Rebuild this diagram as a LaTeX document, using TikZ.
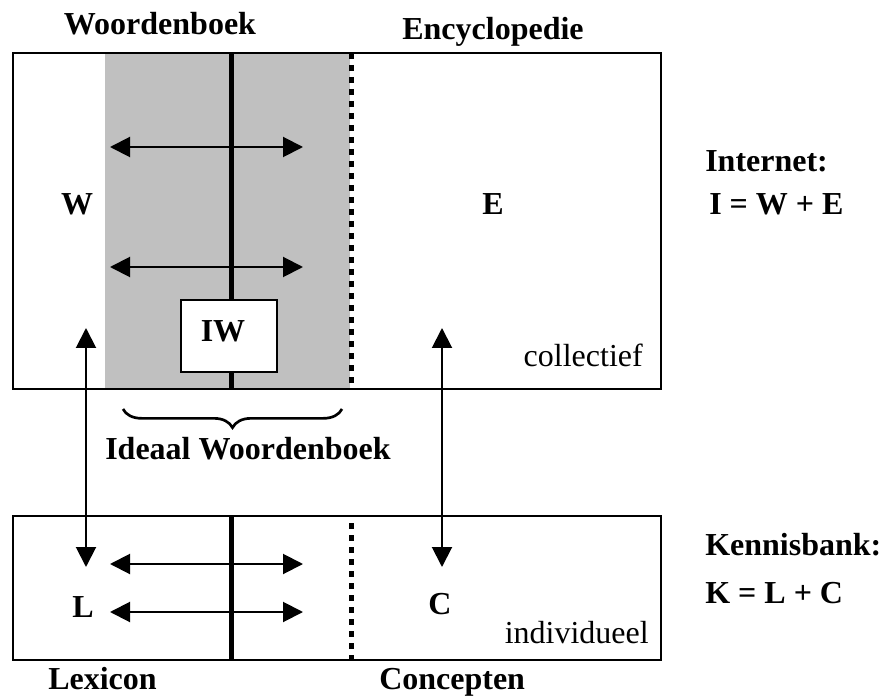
\documentclass[tikz,border=0pt]{standalone}
\usepackage{fontspec}
\setmainfont{Liberation Serif}
\usetikzlibrary{arrows.meta,decorations.pathreplacing}
\definecolor{panegray}{RGB}{192,192,192}
\tikzset{
  frame/.style={draw=black, line width=1.5pt},
  divider/.style={line width=3.75pt},
  softdivider/.style={line width=3.75pt, dash pattern=on 4.5pt off 4.5pt},
  link/.style={line width=1.5pt, {Triangle[length=15pt,width=15pt]}-{Triangle[length=15pt,width=15pt]}},
  lbl/.style={inner sep=0pt, font=\fontsize{24pt}{28pt}\selectfont\bfseries},
  note/.style={inner sep=0pt, font=\fontsize{24pt}{28pt}\selectfont},
}
\begin{document}
\begin{tikzpicture}[x=0.75pt, y=-0.75pt]
\useasboundingbox (0,0) rectangle (881,698);

% collective layer: dictionary / encyclopedia
\fill[panegray] (105,53) rectangle (350,389);
\draw[frame] (13,53) rectangle (661,389);
\draw[divider] (231,53) -- (231,300);
\draw[divider] (231,372) -- (231,389);
\draw[softdivider] (351,53) -- (351,389);
\node[frame, fill=white, minimum width=72pt, minimum height=54pt, inner sep=0pt] (iwbox) at (229,336) {};
\node[lbl, anchor=base] (iw) at (223,341) {IW};

\coordinate (ta1) at (110,147); \coordinate (tb1) at (303,147);
\coordinate (ta2) at (110,267); \coordinate (tb2) at (303,267);
\draw[link] (ta1) -- (tb1);
\draw[link] (ta2) -- (tb2);

\node[lbl, anchor=base] (w) at (77,215) {W};
\node[lbl, anchor=base] (e) at (493,215) {E};
\node[note, anchor=base east] (coll) at (643,366) {collectief};
\node[lbl, anchor=base] (wb) at (160,35) {Woordenboek};
\node[lbl, anchor=base] (enc) at (493,40) {Encyclopedie};
\node[lbl, anchor=base west] (inet) at (705,172) {Internet:};
\node[lbl, anchor=base west] (ieq) at (709,215) {I = W + E};

% ideal dictionary brace
\coordinate (bra) at (123,409); \coordinate (brb) at (342,409);
\draw[line width=2pt, decorate, decoration={brace, mirror, amplitude=14pt}] (bra) -- (brb);
\node[lbl, anchor=base west] (ideal) at (105,459) {Ideaal Woordenboek};

% individual layer: lexicon / concepts
\draw[frame] (13,516) rectangle (661,660);
\draw[divider] (231,516) -- (231,660);
\draw[softdivider] (351,523) -- (351,660);

\coordinate (ba1) at (110,564); \coordinate (bb1) at (303,564);
\coordinate (ba2) at (110,612); \coordinate (bb2) at (303,612);
\draw[link] (ba1) -- (bb1);
\draw[link] (ba2) -- (bb2);

\node[lbl, anchor=base west] (l) at (72,617) {L};
\node[lbl, anchor=base west] (c) at (428,614) {C};
\node[note, anchor=base east] (indiv) at (649,643) {individueel};
\node[lbl, anchor=base west] (lex) at (48,689) {Lexicon};
\node[lbl, anchor=base west] (conc) at (379,689) {Concepten};
\node[lbl, anchor=base west] (kb) at (705,555) {Kennisbank:};
\node[lbl, anchor=base west] (keq) at (705,603) {K = L + C};

% links between the layers
\coordinate (wl1) at (86,328); \coordinate (wl2) at (86,567);
\coordinate (ec1) at (442,328); \coordinate (ec2) at (442,567);
\draw[link] (wl1) -- (wl2);
\draw[link] (ec1) -- (ec2);
\end{tikzpicture}
\end{document}
